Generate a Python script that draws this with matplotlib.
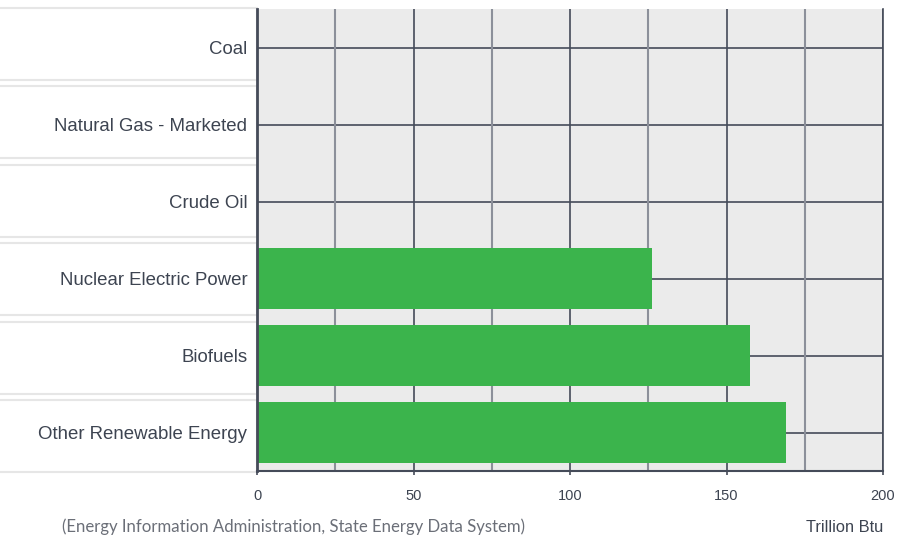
import matplotlib
matplotlib.use("Agg")
import matplotlib.pyplot as plt
from matplotlib.patches import Rectangle

categories = ["Coal", "Natural Gas - Marketed", "Crude Oil",
              "Nuclear Electric Power", "Biofuels", "Other Renewable Energy"]
values = [0, 0, 0, 126.2, 157.5, 169.0]
xticks = [0, 50, 100, 150, 200]
minor_ticks = [25, 75, 125, 175]
source_text = "(Energy Information Administration, State Energy Data System)"
unit_text = "Trillion Btu"

W, H = 899, 540
fig = plt.figure(figsize=(W / 100, H / 100), dpi=100)
fig.patch.set_facecolor("white")

def fx(px):
    return px / W

def fy(py):
    return 1 - py / H

# label boxes on the left
for i in range(len(categories)):
    top = 8 + i * 78.4
    bot = top + 72
    r = Rectangle((fx(-2), fy(bot)), fx(259), (bot - top) / H,
                  transform=fig.transFigure, facecolor="white",
                  edgecolor="#e6e6e6", linewidth=1.5, zorder=0)
    fig.patches.append(r)

ax = fig.add_axes([fx(257), fy(471), fx(883 - 257), (471 - 9) / H])
ax.set_zorder(5)
ax.set_facecolor("#ebebeb")

dark = "#454b59"
ypos = list(range(len(categories)))
ax.set_xlim(0, 200)
ax.set_ylim(len(categories) - 0.5, -0.5)

# grid
for y in ypos:
    ax.axhline(y, color=dark, lw=1.2, zorder=1)
for x in xticks[1:]:
    ax.axvline(x, color=dark, lw=1.2, zorder=1)
for x in minor_ticks:
    ax.axvline(x, color="#8c909a", lw=1.5, zorder=1)

ax.barh(ypos, values, height=0.8, color="#3bb44c", zorder=2)

ax.set_yticks(ypos)
ax.set_yticklabels(categories)
ax.set_xticks(xticks)
ax.set_xticklabels([str(t) for t in xticks])
ax.tick_params(axis="y", length=0, pad=7, labelsize=13.4, labelcolor="#3d4451")
ax.tick_params(axis="x", length=3, width=1.2, color=dark, pad=10,
               labelsize=10.5, labelcolor="#3d4451")
for lbl in ax.get_yticklabels() + ax.get_xticklabels():
    lbl.set_fontfamily("Liberation Sans")

ax.spines["top"].set_visible(False)
ax.spines["left"].set_color(dark)
ax.spines["left"].set_linewidth(2)
ax.spines["bottom"].set_color(dark)
ax.spines["bottom"].set_linewidth(1.5)
ax.spines["right"].set_color(dark)
ax.spines["right"].set_linewidth(1.2)

fig.text(fx(62), fy(527), source_text, ha="left", va="center",
         fontsize=12.1, color="#6b6f78", family="Lato")
fig.text(fx(883), fy(527), unit_text, ha="right", va="center",
         fontsize=11.8, color="#3d4451", family="Liberation Sans")

fig.savefig("out.png", dpi=100)
